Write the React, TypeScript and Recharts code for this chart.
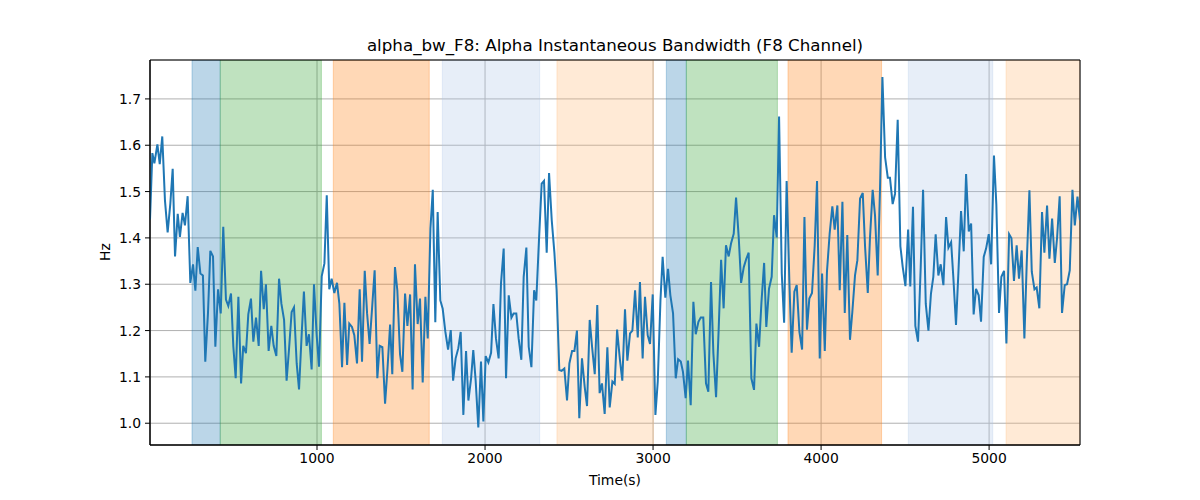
import {
  CartesianGrid,
  Line,
  LineChart,
  ReferenceArea,
  XAxis,
  YAxis,
} from "recharts";

// [time (s), bandwidth (Hz)]
const samples: [number, number][] = [
  [6, 1.44], [20, 1.583], [32, 1.561], [50, 1.602], [64, 1.559], [79, 1.619], [95, 1.481], [111, 1.412],
  [127, 1.474], [141, 1.549], [155, 1.36], [171, 1.452], [184, 1.402], [200, 1.454], [214, 1.427], [230, 1.49],
  [246, 1.303], [262, 1.343], [276, 1.286], [290, 1.38], [306, 1.323], [321, 1.319], [335, 1.133], [351, 1.237],
  [365, 1.372], [381, 1.36], [395, 1.165], [411, 1.289], [427, 1.237], [442, 1.424], [458, 1.267], [472, 1.253],
  [488, 1.28], [502, 1.165], [516, 1.097], [532, 1.273], [548, 1.086], [561, 1.167], [577, 1.151], [591, 1.235],
  [607, 1.269], [621, 1.176], [637, 1.228], [653, 1.167], [667, 1.329], [683, 1.246], [696, 1.3], [712, 1.156],
  [728, 1.21], [742, 1.167], [758, 1.145], [774, 1.312], [788, 1.258], [804, 1.223], [819, 1.092], [833, 1.158],
  [849, 1.24], [863, 1.25], [879, 1.129], [893, 1.073], [909, 1.194], [922, 1.284],
  [938, 1.167], [952, 1.192], [968, 1.116], [982, 1.3], [998, 1.19], [1012, 1.122], [1028, 1.317], [1044, 1.345],
  [1058, 1.492], [1073, 1.289], [1087, 1.312], [1103, 1.281], [1119, 1.303], [1133, 1.258], [1149, 1.121], [1163, 1.26],
  [1179, 1.126], [1192, 1.215], [1208, 1.208], [1222, 1.19], [1238, 1.129], [1254, 1.289], [1268, 1.133], [1284, 1.329],
  [1298, 1.237], [1313, 1.171], [1329, 1.255], [1343, 1.33], [1359, 1.097], [1373, 1.167], [1389, 1.164], [1405, 1.042],
  [1419, 1.115], [1435, 1.213], [1448, 1.106], [1464, 1.337], [1478, 1.287], [1494, 1.149], [1508, 1.111], [1524, 1.28],
  [1538, 1.21], [1554, 1.278], [1569, 1.073], [1583, 1.343], [1599, 1.214], [1613, 1.269], [1629, 1.088], [1645, 1.273],
  [1659, 1.183], [1675, 1.42], [1689, 1.504], [1704, 1.218], [1718, 1.456], [1734, 1.265], [1748, 1.247], [1764, 1.197],
  [1780, 1.159], [1796, 1.201], [1810, 1.092], [1825, 1.14], [1841, 1.162],
  [1855, 1.197], [1871, 1.018], [1887, 1.156], [1901, 1.049], [1917, 1.097], [1930, 1.158], [1944, 1.093], [1960, 0.991],
  [1976, 1.133], [1990, 1.004], [2004, 1.145], [2020, 1.131], [2036, 1.152], [2050, 1.257], [2065, 1.183], [2081, 1.14],
  [2095, 1.302], [2111, 1.377], [2125, 1.097], [2141, 1.276], [2157, 1.228], [2170, 1.237], [2186, 1.237], [2200, 1.183],
  [2216, 1.137], [2230, 1.316], [2246, 1.379], [2260, 1.165], [2276, 1.121], [2292, 1.287], [2305, 1.265], [2321, 1.395],
  [2337, 1.517], [2351, 1.523], [2367, 1.368], [2381, 1.54], [2397, 1.438], [2413, 1.367], [2426, 1.287], [2442, 1.115],
  [2456, 1.113], [2472, 1.118], [2488, 1.049], [2502, 1.129], [2518, 1.156], [2532, 1.156], [2547, 1.2], [2561, 1.011],
  [2577, 1.14], [2593, 1.079], [2607, 1.037], [2623, 1.223], [2637, 1.165], [2653, 1.106], [2668, 1.255], [2682, 1.065],
  [2696, 1.086], [2712, 1.02], [2728, 1.164], [2742, 1.034], [2758, 1.09], [2772, 1.085],
  [2786, 1.202], [2803, 1.136], [2817, 1.092], [2833, 1.246], [2847, 1.135], [2863, 1.194], [2877, 1.2], [2893, 1.287],
  [2909, 1.185], [2922, 1.305], [2938, 1.14], [2952, 1.273], [2968, 1.19], [2982, 1.171], [2998, 1.278], [3014, 1.018],
  [3028, 1.09], [3044, 1.265], [3057, 1.359], [3073, 1.271], [3089, 1.333], [3103, 1.276], [3119, 1.237], [3135, 1.097],
  [3149, 1.138], [3165, 1.133], [3178, 1.111], [3194, 1.054], [3208, 1.135], [3224, 1.039], [3240, 1.262], [3254, 1.192],
  [3270, 1.219], [3284, 1.228], [3299, 1.228], [3315, 1.086], [3329, 1.068], [3345, 1.305], [3359, 1.151], [3375, 1.056],
  [3391, 1.208], [3405, 1.353], [3420, 1.248], [3434, 1.384], [3450, 1.36], [3464, 1.388], [3480, 1.409], [3494, 1.487],
  [3510, 1.4], [3524, 1.303], [3540, 1.337], [3555, 1.355], [3569, 1.368], [3585, 1.097], [3601, 1.072], [3615, 1.215],
  [3631, 1.165], [3645, 1.26], [3661, 1.346], [3674, 1.208], [3690, 1.29],
  [3706, 1.316], [3720, 1.449], [3736, 1.401], [3750, 1.662], [3766, 1.323], [3780, 1.217], [3795, 1.523], [3811, 1.309],
  [3825, 1.152], [3841, 1.284], [3855, 1.298], [3871, 1.197], [3887, 1.159], [3901, 1.445], [3916, 1.202], [3930, 1.269],
  [3946, 1.281], [3962, 1.384], [3976, 1.523], [3992, 1.14], [4006, 1.323], [4022, 1.156], [4035, 1.327], [4051, 1.409],
  [4067, 1.468], [4081, 1.418], [4097, 1.47], [4111, 1.287], [4127, 1.478], [4141, 1.238], [4156, 1.406], [4172, 1.18],
  [4186, 1.24], [4202, 1.319], [4216, 1.352], [4232, 1.485], [4248, 1.497], [4262, 1.38], [4278, 1.281], [4291, 1.4],
  [4307, 1.504], [4321, 1.449], [4337, 1.319], [4351, 1.51], [4365, 1.747], [4381, 1.574], [4397, 1.53], [4410, 1.53],
  [4426, 1.473], [4440, 1.495], [4456, 1.655], [4472, 1.382], [4486, 1.337], [4502, 1.296], [4518, 1.418], [4531, 1.295],
  [4547, 1.467], [4561, 1.21], [4577, 1.176], [4593, 1.337], [4607, 1.504],
  [4623, 1.258], [4639, 1.2], [4654, 1.28], [4668, 1.316], [4682, 1.408], [4698, 1.319], [4712, 1.343], [4728, 1.298],
  [4744, 1.445], [4758, 1.379], [4774, 1.391], [4787, 1.316], [4803, 1.212], [4817, 1.323], [4833, 1.458], [4849, 1.371],
  [4863, 1.538], [4879, 1.414], [4893, 1.431], [4908, 1.235], [4922, 1.29], [4938, 1.276], [4952, 1.219], [4968, 1.359],
  [4982, 1.377], [4998, 1.408], [5012, 1.343], [5029, 1.578], [5043, 1.473], [5059, 1.238], [5073, 1.316], [5089, 1.329],
  [5103, 1.172], [5119, 1.408], [5133, 1.399], [5148, 1.307], [5164, 1.384], [5178, 1.312], [5194, 1.373], [5210, 1.183],
  [5224, 1.345], [5240, 1.503], [5254, 1.327], [5270, 1.289], [5283, 1.293], [5299, 1.248], [5315, 1.456], [5329, 1.368],
  [5345, 1.47], [5359, 1.355], [5375, 1.442], [5391, 1.346], [5405, 1.402], [5420, 1.49], [5434, 1.238], [5450, 1.298],
  [5464, 1.3], [5480, 1.33], [5496, 1.504], [5510, 1.427], [5526, 1.489], [5541, 1.438],
];

// shaded phases: [start, end, colour]
const phases: [number, number, string][] = [
  [256, 424, "#1f77b4"],
  [424, 1026, "#2ca02c"],
  [1097, 1668, "#ff7f0e"],
  [1746, 2325, "#aec7e8"],
  [2428, 3002, "#ffbb78"],
  [3079, 3198, "#1f77b4"],
  [3198, 3740, "#2ca02c"],
  [3803, 4360, "#ff7f0e"],
  [4519, 5022, "#aec7e8"],
  [5101, 5541, "#ffbb78"],
];

const xTicks = [1000, 2000, 3000, 4000, 5000];
const yTicks = [1.0, 1.1, 1.2, 1.3, 1.4, 1.5, 1.6, 1.7];
const xDomain: [number, number] = [6, 5541];
const yDomain: [number, number] = [0.953, 1.784];

const data = samples.map(([t, v]) => ({ t, v }));

const font = "'DejaVu Sans', sans-serif";
const tickStyle = { fill: "#000", fontSize: 13.9, fontFamily: font };

export default function App() {
  return (
    <div
      style={{
        position: "absolute",
        left: 0,
        top: 0,
        width: 1200,
        height: 500,
        background: "#fff",
        fontFamily: font,
      }}
    >
      <div
        style={{
          position: "absolute",
          left: 150,
          width: 930,
          top: 35,
          textAlign: "center",
          fontSize: 16.7,
          color: "#000",
        }}
      >
        alpha_bw_F8: Alpha Instantaneous Bandwidth (F8 Channel)
      </div>
      <LineChart
        width={1200}
        height={500}
        data={data}
        margin={{ top: 60, right: 120, bottom: 0, left: 0 }}
      >
        <CartesianGrid stroke="#b0b0b0" strokeWidth={1} />
        {phases.map(([a, b, c], i) => (
          <ReferenceArea
            key={i}
            x1={a}
            x2={b}
            y1={yDomain[0]}
            y2={yDomain[1]}
            fill={c}
            fillOpacity={0.3}
            stroke={c}
            strokeOpacity={0.3}
            ifOverflow="hidden"
          />
        ))}
        <XAxis
          dataKey="t"
          type="number"
          domain={xDomain}
          ticks={xTicks}
          allowDataOverflow
          height={55}
          tickSize={5}
          tickMargin={3}
          stroke="#000"
          tick={tickStyle}
        />
        <YAxis
          type="number"
          domain={yDomain}
          ticks={yTicks}
          allowDataOverflow
          width={150}
          tickSize={5}
          tickMargin={4}
          stroke="#000"
          tick={tickStyle}
          tickFormatter={(v: number) => v.toFixed(1)}
        />
        <Line
          dataKey="v"
          type="linear"
          stroke="#1f77b4"
          strokeWidth={2}
          dot={false}
          activeDot={false}
          isAnimationActive={false}
        />
        <ReferenceArea
          x1={xDomain[0]}
          x2={xDomain[1]}
          y1={yDomain[0]}
          y2={yDomain[1]}
          fill="none"
          stroke="#000"
          strokeWidth={1}
        />
      </LineChart>
      <div
        style={{
          position: "absolute",
          left: 150,
          width: 930,
          top: 472,
          textAlign: "center",
          fontSize: 13.9,
          color: "#000",
        }}
      >
        Time(s)
      </div>
      <div
        style={{
          position: "absolute",
          left: 105,
          top: 252,
          transform: "translate(-50%, -50%) rotate(-90deg)",
          fontSize: 13.9,
          color: "#000",
        }}
      >
        Hz
      </div>
    </div>
  );
}
